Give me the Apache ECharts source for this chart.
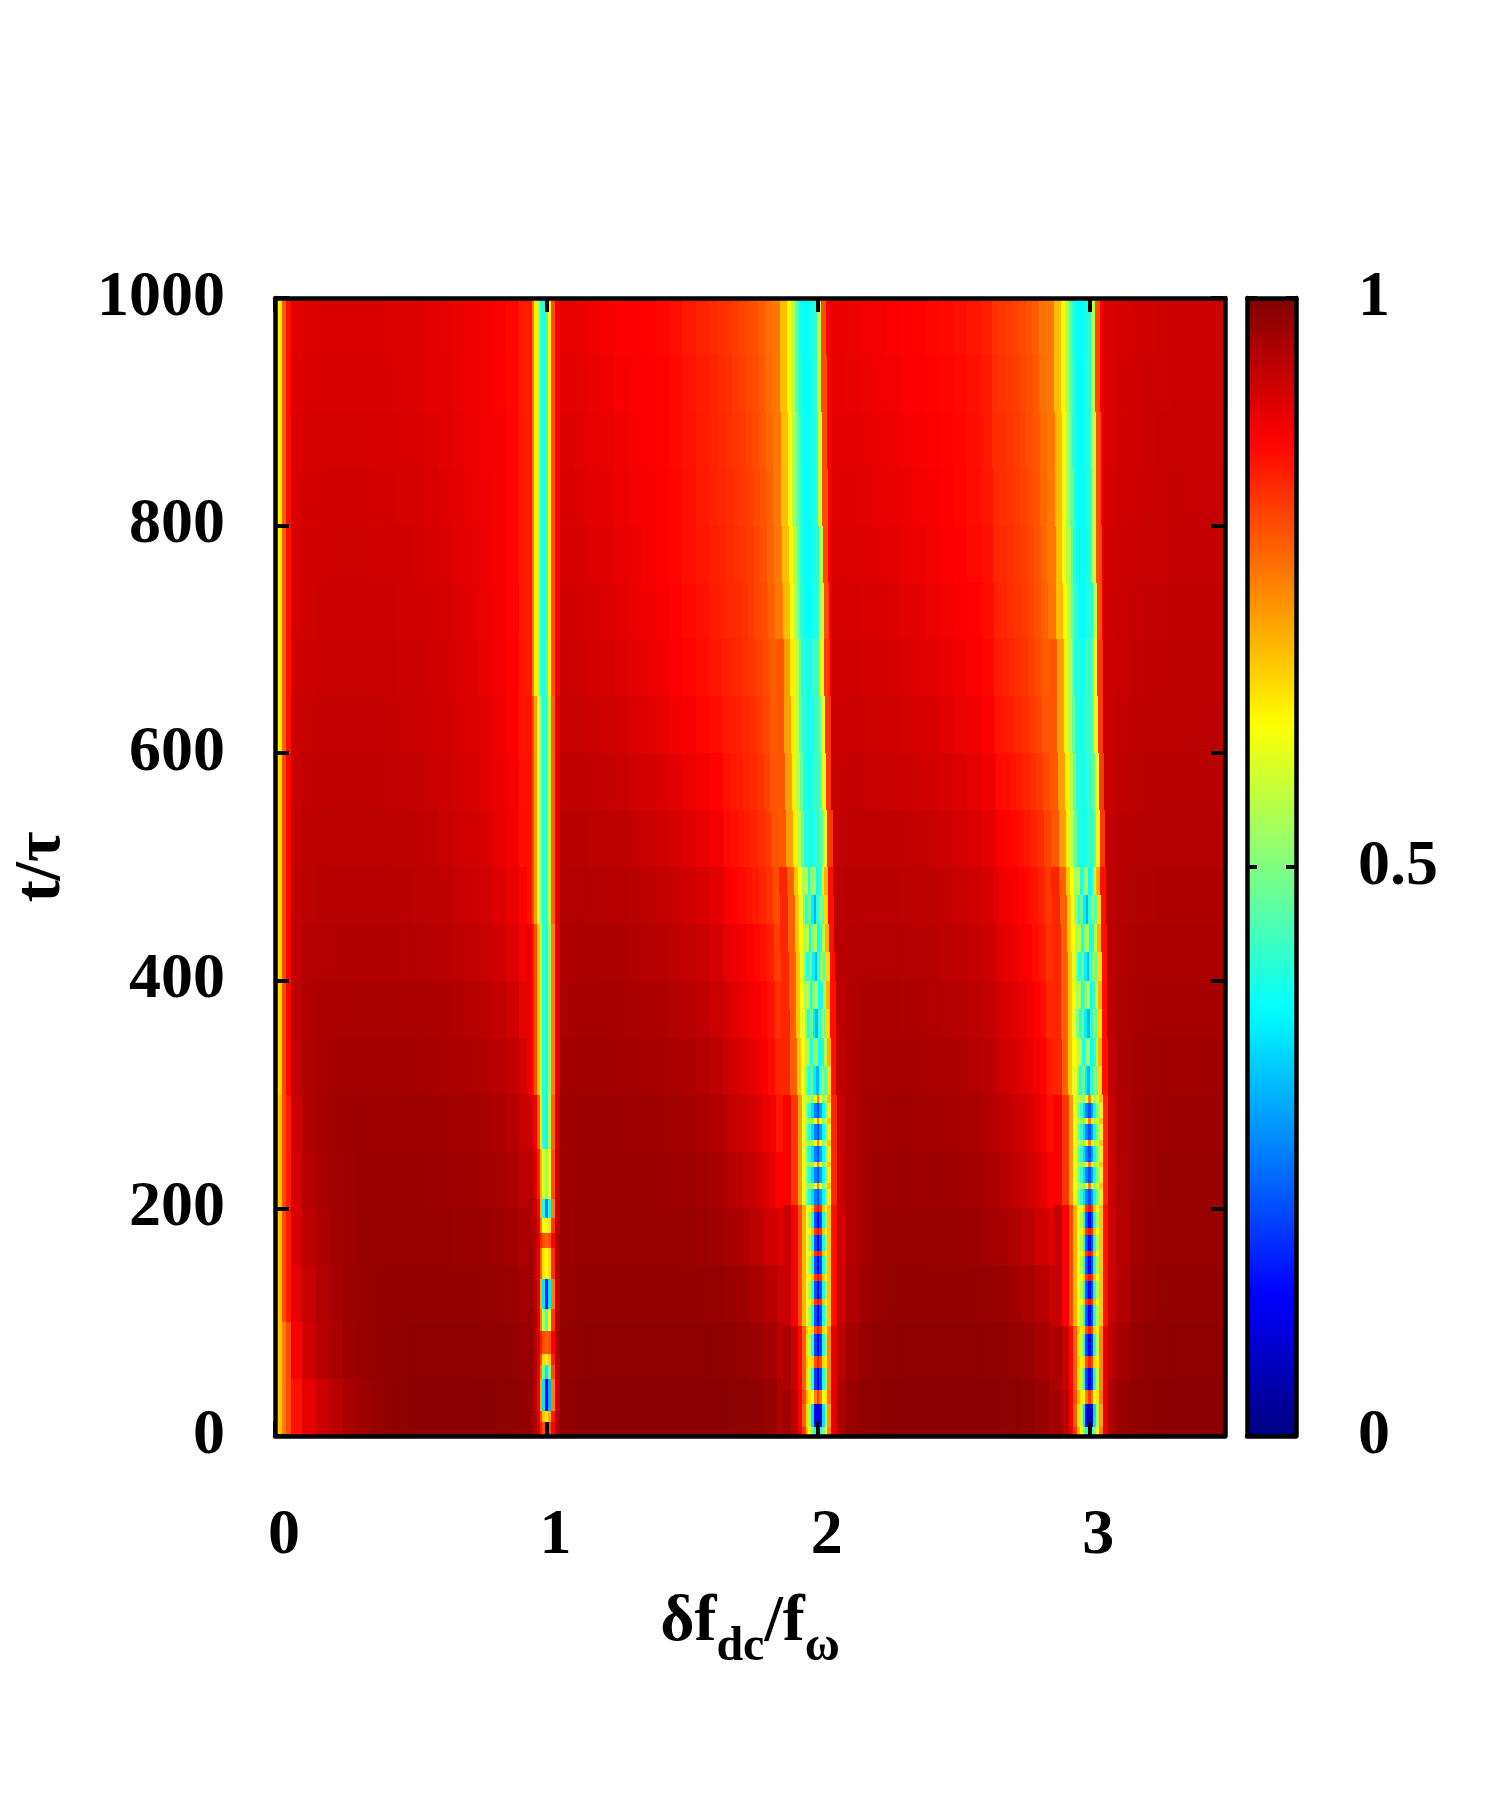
<!DOCTYPE html>
<html><head><meta charset="utf-8">
<script src="https://cdn.jsdelivr.net/npm/echarts@6/dist/echarts.min.js"></script>
<style>html,body{margin:0;padding:0;background:#fff}#c{width:1500px;height:1800px}</style>
</head><body><div id="c"></div>
<script>
// ---------- tick labels ----------
const xTickLabels = [0, 1, 2, 3];
const yTickLabels = [0, 200, 400, 600, 800, 1000];
const cbTickLabels = [0, 0.5, 1];

// ---------- background field, t bands of 50 ----------
const bgT = [0,50,100,150,200,250,300,350,400,450,500,550,600,650,700,750,800,850,900,950,1000];
const bgStep = 0.05;
// region A: x 0 .. 0.95
const bgA = [
  [0.78,0.86,0.9,0.925,0.945,0.96,0.97,0.978,0.984,0.988,0.99,0.99,0.99,0.99,0.99,0.99,0.989,0.987,0.98],
  [0.8,0.88,0.92,0.945,0.96,0.97,0.977,0.982,0.984,0.985,0.986,0.986,0.986,0.986,0.986,0.985,0.984,0.982,0.975],
  [0.82,0.9,0.93,0.95,0.963,0.972,0.977,0.98,0.981,0.981,0.981,0.981,0.981,0.981,0.98,0.979,0.977,0.974,0.965],
  [0.83,0.91,0.94,0.955,0.965,0.972,0.975,0.976,0.976,0.976,0.976,0.976,0.976,0.975,0.974,0.973,0.97,0.966,0.955],
  [0.84,0.915,0.945,0.96,0.967,0.971,0.973,0.973,0.973,0.973,0.973,0.972,0.971,0.97,0.968,0.966,0.962,0.955,0.94],
  [0.85,0.925,0.952,0.963,0.967,0.969,0.97,0.97,0.97,0.97,0.97,0.969,0.968,0.966,0.964,0.961,0.956,0.947,0.93],
  [0.86,0.935,0.955,0.961,0.964,0.965,0.965,0.965,0.965,0.964,0.963,0.962,0.96,0.958,0.955,0.951,0.945,0.935,0.915],
  [0.87,0.94,0.953,0.957,0.959,0.96,0.96,0.96,0.96,0.959,0.958,0.956,0.954,0.951,0.947,0.942,0.935,0.923,0.9],
  [0.87,0.938,0.948,0.951,0.953,0.953,0.953,0.953,0.953,0.952,0.95,0.948,0.945,0.941,0.936,0.93,0.921,0.908,0.885],
  [0.87,0.935,0.943,0.946,0.947,0.947,0.947,0.947,0.946,0.945,0.943,0.94,0.937,0.932,0.926,0.919,0.909,0.895,0.872],
  [0.87,0.932,0.938,0.941,0.942,0.942,0.942,0.942,0.941,0.94,0.937,0.934,0.93,0.925,0.918,0.91,0.9,0.886,0.862],
  [0.87,0.928,0.934,0.937,0.938,0.938,0.938,0.937,0.936,0.934,0.932,0.929,0.925,0.919,0.913,0.905,0.895,0.881,0.858],
  [0.87,0.924,0.93,0.933,0.934,0.934,0.934,0.933,0.932,0.93,0.928,0.925,0.921,0.915,0.909,0.901,0.891,0.877,0.855],
  [0.87,0.92,0.926,0.929,0.93,0.93,0.93,0.929,0.928,0.926,0.924,0.921,0.917,0.911,0.905,0.897,0.887,0.874,0.852],
  [0.87,0.917,0.923,0.926,0.927,0.927,0.927,0.926,0.925,0.923,0.921,0.918,0.914,0.908,0.902,0.894,0.885,0.872,0.85],
  [0.87,0.914,0.92,0.923,0.924,0.924,0.924,0.923,0.922,0.92,0.918,0.915,0.911,0.905,0.899,0.892,0.883,0.871,0.85],
  [0.87,0.911,0.917,0.919,0.92,0.92,0.92,0.919,0.918,0.916,0.914,0.911,0.907,0.902,0.896,0.89,0.882,0.871,0.85],
  [0.87,0.908,0.914,0.916,0.916,0.916,0.916,0.915,0.914,0.912,0.91,0.907,0.904,0.9,0.894,0.888,0.881,0.871,0.85],
  [0.88,0.906,0.911,0.913,0.913,0.913,0.913,0.912,0.911,0.909,0.907,0.904,0.901,0.897,0.892,0.887,0.88,0.87,0.85],
  [0.88,0.904,0.909,0.911,0.911,0.911,0.911,0.91,0.909,0.907,0.905,0.902,0.899,0.896,0.891,0.886,0.879,0.869,0.85]
];
// region B: x 1.05 .. 1.85
const bgB = [
  [0.985,0.99,0.99,0.99,0.99,0.99,0.99,0.99,0.99,0.99,0.99,0.99,0.989,0.987,0.984,0.975],
  [0.98,0.985,0.986,0.986,0.986,0.986,0.986,0.986,0.986,0.986,0.986,0.985,0.984,0.98,0.974,0.962],
  [0.976,0.98,0.982,0.982,0.982,0.982,0.982,0.982,0.982,0.981,0.98,0.978,0.974,0.968,0.958,0.945],
  [0.972,0.976,0.977,0.977,0.977,0.977,0.977,0.976,0.976,0.975,0.972,0.968,0.962,0.955,0.94,0.92],
  [0.97,0.974,0.974,0.974,0.974,0.974,0.973,0.972,0.971,0.969,0.966,0.962,0.956,0.948,0.938,0.922],
  [0.968,0.971,0.971,0.971,0.971,0.97,0.969,0.968,0.966,0.963,0.959,0.953,0.945,0.935,0.924,0.906],
  [0.964,0.967,0.967,0.967,0.966,0.965,0.963,0.961,0.958,0.954,0.948,0.94,0.93,0.918,0.904,0.885],
  [0.96,0.962,0.962,0.962,0.961,0.959,0.957,0.954,0.95,0.945,0.938,0.929,0.918,0.905,0.89,0.87],
  [0.955,0.957,0.957,0.956,0.954,0.952,0.949,0.945,0.94,0.934,0.926,0.916,0.904,0.891,0.876,0.855],
  [0.95,0.951,0.95,0.949,0.947,0.944,0.94,0.935,0.929,0.921,0.912,0.901,0.889,0.876,0.862,0.84],
  [0.944,0.944,0.943,0.941,0.938,0.934,0.929,0.923,0.916,0.907,0.897,0.886,0.874,0.862,0.848,0.825],
  [0.938,0.937,0.935,0.932,0.928,0.923,0.917,0.91,0.902,0.893,0.883,0.873,0.862,0.851,0.838,0.815],
  [0.932,0.93,0.927,0.923,0.918,0.912,0.905,0.898,0.89,0.881,0.872,0.862,0.852,0.842,0.83,0.808],
  [0.926,0.923,0.919,0.914,0.909,0.903,0.896,0.888,0.88,0.872,0.863,0.854,0.845,0.835,0.823,0.802],
  [0.92,0.917,0.913,0.908,0.902,0.896,0.889,0.881,0.874,0.866,0.858,0.849,0.84,0.83,0.818,0.797],
  [0.915,0.912,0.908,0.903,0.897,0.891,0.884,0.877,0.87,0.862,0.854,0.845,0.836,0.826,0.814,0.793],
  [0.911,0.908,0.904,0.899,0.893,0.887,0.881,0.875,0.868,0.86,0.851,0.842,0.833,0.823,0.811,0.79],
  [0.907,0.904,0.9,0.895,0.889,0.883,0.878,0.873,0.866,0.858,0.849,0.84,0.83,0.82,0.808,0.787],
  [0.903,0.899,0.895,0.889,0.883,0.879,0.876,0.873,0.866,0.857,0.848,0.84,0.831,0.82,0.8,0.775],
  [0.9,0.895,0.89,0.883,0.877,0.875,0.873,0.87,0.862,0.852,0.843,0.835,0.826,0.815,0.795,0.77]
];
// region C: x 2.05 .. 2.85
const bgC = [
  [0.955,0.975,0.984,0.988,0.99,0.99,0.99,0.99,0.99,0.99,0.99,0.99,0.989,0.987,0.984,0.975],
  [0.94,0.965,0.977,0.983,0.985,0.986,0.986,0.986,0.986,0.986,0.986,0.985,0.984,0.98,0.974,0.962],
  [0.925,0.952,0.97,0.978,0.981,0.982,0.982,0.982,0.982,0.981,0.98,0.977,0.973,0.967,0.958,0.945],
  [0.922,0.948,0.965,0.973,0.976,0.976,0.976,0.975,0.975,0.974,0.971,0.967,0.961,0.953,0.94,0.92],
  [0.925,0.948,0.963,0.97,0.972,0.972,0.971,0.97,0.969,0.967,0.964,0.96,0.954,0.946,0.936,0.92],
  [0.93,0.95,0.962,0.966,0.967,0.967,0.966,0.965,0.963,0.961,0.958,0.953,0.946,0.937,0.925,0.908],
  [0.938,0.952,0.959,0.961,0.962,0.961,0.96,0.959,0.957,0.954,0.95,0.944,0.936,0.926,0.913,0.895],
  [0.942,0.952,0.956,0.957,0.957,0.956,0.955,0.953,0.95,0.947,0.942,0.935,0.926,0.915,0.901,0.882],
  [0.942,0.948,0.951,0.951,0.951,0.95,0.948,0.946,0.943,0.939,0.933,0.925,0.915,0.903,0.889,0.87],
  [0.94,0.944,0.945,0.945,0.944,0.943,0.941,0.938,0.934,0.929,0.922,0.914,0.903,0.891,0.877,0.858],
  [0.935,0.938,0.938,0.938,0.937,0.935,0.932,0.929,0.924,0.918,0.911,0.902,0.891,0.879,0.865,0.846],
  [0.93,0.932,0.932,0.931,0.929,0.927,0.923,0.919,0.914,0.907,0.899,0.89,0.879,0.867,0.853,0.834],
  [0.925,0.926,0.925,0.924,0.922,0.919,0.915,0.91,0.904,0.897,0.889,0.879,0.868,0.856,0.843,0.823],
  [0.92,0.92,0.919,0.917,0.915,0.911,0.906,0.901,0.895,0.888,0.88,0.871,0.86,0.848,0.835,0.815],
  [0.915,0.914,0.913,0.911,0.908,0.904,0.899,0.893,0.887,0.88,0.873,0.864,0.854,0.842,0.829,0.808],
  [0.91,0.909,0.908,0.905,0.902,0.897,0.892,0.886,0.88,0.874,0.867,0.859,0.849,0.838,0.825,0.803],
  [0.906,0.905,0.903,0.9,0.896,0.891,0.886,0.881,0.876,0.87,0.863,0.855,0.845,0.834,0.821,0.799],
  [0.902,0.901,0.899,0.895,0.891,0.886,0.881,0.877,0.873,0.868,0.861,0.853,0.843,0.832,0.818,0.795],
  [0.898,0.897,0.894,0.89,0.885,0.88,0.876,0.874,0.871,0.866,0.86,0.852,0.842,0.831,0.816,0.79],
  [0.895,0.894,0.89,0.885,0.879,0.875,0.873,0.87,0.866,0.86,0.854,0.845,0.835,0.824,0.806,0.778]
];
// region D: x 3.05 .. 3.5
const bgD = [
  [0.955,0.975,0.984,0.988,0.99,0.99,0.99,0.99,0.99],
  [0.94,0.965,0.977,0.983,0.985,0.986,0.986,0.986,0.986],
  [0.925,0.952,0.97,0.978,0.981,0.982,0.982,0.982,0.982],
  [0.922,0.948,0.965,0.974,0.977,0.978,0.978,0.978,0.978],
  [0.925,0.95,0.965,0.972,0.975,0.975,0.975,0.975,0.975],
  [0.93,0.952,0.964,0.969,0.971,0.971,0.971,0.971,0.971],
  [0.938,0.955,0.963,0.966,0.967,0.967,0.967,0.967,0.967],
  [0.942,0.955,0.96,0.962,0.963,0.963,0.963,0.963,0.963],
  [0.942,0.952,0.956,0.958,0.958,0.958,0.958,0.958,0.958],
  [0.94,0.949,0.952,0.953,0.954,0.954,0.954,0.954,0.954],
  [0.935,0.944,0.947,0.949,0.95,0.95,0.95,0.95,0.95],
  [0.93,0.938,0.942,0.945,0.946,0.946,0.946,0.946,0.946],
  [0.927,0.934,0.938,0.941,0.942,0.943,0.943,0.943,0.943],
  [0.924,0.93,0.934,0.937,0.939,0.94,0.94,0.94,0.94],
  [0.921,0.927,0.931,0.934,0.936,0.937,0.937,0.937,0.937],
  [0.918,0.924,0.928,0.931,0.933,0.934,0.934,0.934,0.934],
  [0.915,0.921,0.925,0.928,0.93,0.931,0.931,0.931,0.931],
  [0.913,0.919,0.923,0.926,0.928,0.929,0.929,0.929,0.929],
  [0.912,0.917,0.921,0.924,0.926,0.927,0.927,0.927,0.927],
  [0.91,0.915,0.92,0.923,0.925,0.925,0.925,0.925,0.925]
];
// gaps under the lines (mostly hidden)
const bgGap1 = [0.9,0.9,0.9,0.9,0.9,0.9,0.9,0.9,0.9,0.9,0.9,0.9,0.9,0.9,0.9,0.9,0.9,0.9,0.9,0.9];
const bgGap2 = [0.96,0.945,0.93,0.905,0.9,0.9,0.9,0.9,0.9,0.9,0.88,0.88,0.88,0.88,0.88,0.88,0.88,0.88,0.88,0.88];
const bgGap3 = [0.96,0.945,0.93,0.905,0.9,0.9,0.9,0.9,0.9,0.9,0.88,0.88,0.88,0.88,0.88,0.88,0.88,0.88,0.88,0.88];

// ---------- orange halos left of the lines near x = 2 and x = 3 ----------
const haloOff = [-0.33,-0.305,-0.28,-0.255,-0.23,-0.205,-0.18,-0.155,-0.12];
const haloT = [200,250,300,350,400,450,500,550,600,650,700,750,800,850,900,950,1000];
const H2_c = [2,2,1.998,1.996,1.993,1.989,1.984,1.98,1.977,1.974,1.971,1.968,1.966,1.964,1.962,1.96];
const H3_c = [3,3,2.998,2.997,2.995,2.992,2.988,2.985,2.982,2.98,2.978,2.976,2.974,2.973,2.971,2.97];
const H2_v = [
  [0.948,0.944,0.938,0.931,0.923,0.913,0.9,0.877],
  [0.935,0.93,0.924,0.917,0.908,0.897,0.882,0.855],
  [0.922,0.916,0.909,0.901,0.892,0.881,0.866,0.84],
  [0.908,0.902,0.895,0.887,0.879,0.869,0.855,0.825],
  [0.898,0.892,0.885,0.877,0.869,0.859,0.845,0.815],
  [0.878,0.872,0.865,0.858,0.85,0.84,0.825,0.8],
  [0.866,0.86,0.854,0.847,0.84,0.831,0.818,0.795],
  [0.858,0.853,0.847,0.841,0.834,0.825,0.811,0.79],
  [0.852,0.847,0.842,0.836,0.829,0.819,0.806,0.786],
  [0.847,0.842,0.837,0.831,0.824,0.814,0.802,0.783],
  [0.843,0.838,0.833,0.827,0.819,0.81,0.799,0.78],
  [0.84,0.835,0.83,0.824,0.816,0.807,0.796,0.778],
  [0.838,0.833,0.827,0.821,0.814,0.805,0.793,0.776],
  [0.835,0.83,0.824,0.818,0.811,0.802,0.79,0.774],
  [0.833,0.828,0.821,0.815,0.808,0.799,0.788,0.772],
  [0.83,0.825,0.818,0.812,0.805,0.796,0.785,0.77]
];
const H3_v = [
  [0.946,0.942,0.937,0.93,0.922,0.912,0.899,0.876],
  [0.937,0.933,0.927,0.92,0.911,0.9,0.886,0.862],
  [0.926,0.921,0.915,0.907,0.898,0.887,0.872,0.848],
  [0.915,0.91,0.904,0.896,0.887,0.876,0.862,0.838],
  [0.903,0.898,0.891,0.884,0.875,0.865,0.851,0.828],
  [0.891,0.886,0.88,0.873,0.865,0.855,0.842,0.82],
  [0.879,0.874,0.868,0.861,0.853,0.844,0.832,0.81],
  [0.867,0.862,0.856,0.849,0.841,0.832,0.82,0.8],
  [0.856,0.851,0.845,0.838,0.83,0.821,0.809,0.79],
  [0.848,0.843,0.837,0.831,0.823,0.814,0.803,0.785],
  [0.842,0.837,0.832,0.826,0.819,0.81,0.799,0.78],
  [0.838,0.833,0.828,0.822,0.815,0.806,0.795,0.776],
  [0.834,0.83,0.825,0.819,0.812,0.803,0.792,0.773],
  [0.832,0.828,0.823,0.817,0.81,0.801,0.79,0.77],
  [0.83,0.826,0.821,0.815,0.808,0.799,0.788,0.768],
  [0.826,0.822,0.817,0.811,0.804,0.795,0.784,0.765]
];

// ---------- left edge stripe (x = 0) ----------
const L0_x = [0, 0.012, 0.025, 0.04, 0.06];
const L0_t = [0, 100, 300, 600, 1000];
const L0_v = [
  [0.6, 0.68, 0.75, 0.8],
  [0.6, 0.68, 0.8, 0.85],
  [0.58, 0.66, 0.8, 0.87],
  [0.56, 0.64, 0.78, 0.86]
];

// ---------- line near x = 1 ----------
const L1_x = [0.93, 0.945, 0.955, 0.965, 0.975, 0.985, 0.995, 1.005, 1.015, 1.03, 1.05];
const L1_t = [0, 12, 22, 50, 62, 72, 92, 112, 138, 165, 178, 192, 208, 252, 300, 450, 650, 1000];
const L1_v = [
  [0.98,0.97,0.95,0.92,0.85,0.8,0.78,0.8,0.88,0.96],
  [0.98,0.97,0.95,0.9,0.8,0.68,0.65,0.7,0.85,0.95],
  [0.98,0.97,0.94,0.88,0.7,0.35,0.12,0.3,0.75,0.92],
  [0.98,0.97,0.95,0.9,0.75,0.5,0.35,0.5,0.8,0.94],
  [0.98,0.97,0.95,0.9,0.8,0.66,0.64,0.68,0.85,0.95],
  [0.98,0.97,0.95,0.92,0.85,0.8,0.78,0.8,0.88,0.96],
  [0.98,0.97,0.95,0.9,0.75,0.55,0.45,0.6,0.82,0.95],
  [0.975,0.965,0.945,0.9,0.7,0.35,0.15,0.35,0.75,0.93],
  [0.97,0.96,0.94,0.9,0.78,0.65,0.62,0.66,0.83,0.95],
  [0.965,0.955,0.94,0.91,0.84,0.8,0.78,0.8,0.88,0.96],
  [0.96,0.95,0.935,0.9,0.75,0.62,0.6,0.65,0.82,0.94],
  [0.955,0.945,0.93,0.88,0.7,0.4,0.25,0.4,0.75,0.93],
  [0.945,0.935,0.91,0.85,0.7,0.58,0.52,0.6,0.8,0.93],
  [0.93,0.91,0.88,0.78,0.65,0.42,0.38,0.55,0.78,0.92],
  [0.9,0.86,0.8,0.68,0.56,0.42,0.4,0.52,0.75,0.9],
  [0.86,0.8,0.72,0.6,0.5,0.41,0.42,0.56,0.78,0.9],
  [0.85,0.76,0.64,0.55,0.43,0.4,0.45,0.63,0.8,0.89]
];

// ---------- lines near x = 2 and x = 3: profiles across the line ----------
const spotOff = [-0.13,-0.1,-0.075,-0.06,-0.045,-0.035,-0.025,-0.015,-0.005,0.005,0.015,0.025,0.035,0.05,0.07];
const RED0   = [0.97,0.95,0.9,0.82,0.7,0.62,0.5,0.4,0.35,0.4,0.5,0.62,0.75,0.9];
const SPOT_A = [0.97,0.94,0.88,0.78,0.66,0.55,0.35,0.12,0.06,0.12,0.35,0.55,0.72,0.9];
const GAP_A  = [0.97,0.94,0.88,0.8,0.7,0.65,0.62,0.75,0.82,0.75,0.62,0.65,0.76,0.9];
const SPOT_B = [0.96,0.93,0.87,0.78,0.66,0.56,0.4,0.18,0.1,0.18,0.4,0.56,0.74,0.9];
const GAP_B  = [0.96,0.93,0.87,0.78,0.68,0.64,0.66,0.8,0.85,0.8,0.66,0.64,0.74,0.9];
const SPOT_C = [0.93,0.88,0.8,0.7,0.62,0.55,0.4,0.2,0.12,0.2,0.4,0.55,0.68,0.86];
const GAP_C  = [0.93,0.88,0.8,0.7,0.62,0.62,0.68,0.82,0.86,0.82,0.68,0.62,0.68,0.86];
const SPOT_D = [0.88,0.82,0.72,0.6,0.5,0.42,0.34,0.25,0.2,0.28,0.38,0.5,0.64,0.84];
const GAP_D  = [0.88,0.82,0.72,0.6,0.55,0.55,0.5,0.62,0.75,0.62,0.52,0.58,0.68,0.84];
const CHK_A  = [0.84,0.78,0.68,0.6,0.5,0.42,0.48,0.36,0.3,0.42,0.52,0.46,0.66,0.86];
const CHK_B  = [0.84,0.78,0.68,0.62,0.54,0.56,0.4,0.5,0.55,0.38,0.42,0.56,0.7,0.86];
const MID    = [0.79,0.72,0.64,0.56,0.47,0.41,0.41,0.39,0.4,0.43,0.42,0.47,0.6,0.82];
const TOP    = [0.76,0.69,0.63,0.55,0.47,0.42,0.39,0.38,0.38,0.39,0.4,0.42,0.56,0.8];
const spotT = [0,8,28,40,60,70,90,97,115,120,136,142,158,163,177,183,197,203,217,222,236,241,255,260,274,279,293,300,
  325,350,375,400,425,450,475,500,550,600,650,700,750,800,850,900,950,1000];
const spotProf = [RED0,SPOT_A,GAP_A,SPOT_B,GAP_B,SPOT_B,GAP_B,
  SPOT_C,GAP_C,SPOT_C,GAP_C,SPOT_C,GAP_C,SPOT_C,GAP_C,SPOT_C,GAP_C,
  SPOT_D,GAP_D,SPOT_D,GAP_D,SPOT_D,GAP_D,SPOT_D,GAP_D,SPOT_D,GAP_D,
  CHK_A,CHK_B,CHK_A,CHK_B,CHK_A,CHK_B,CHK_A,CHK_B,
  MID,MID,MID,MID,TOP,TOP,TOP,TOP,TOP,TOP];
const L2_c = [2,2,2,2,2,2,2,2,2,2,2,2,2,2,2,2,2,2,2,2,2,2,2,2,2,2,2,
  1.998,1.997,1.996,1.995,1.993,1.991,1.989,1.987,
  1.984,1.98,1.977,1.974,1.971,1.968,1.966,1.964,1.962,1.96];
const L3_c = [3,3,3,3,3,3,3,3,3,3,3,3,3,3,3,3,3,3,3,3,3,3,3,3,3,3,3,
  2.998,2.998,2.997,2.996,2.995,2.994,2.992,2.99,
  2.988,2.985,2.982,2.98,2.978,2.976,2.974,2.973,2.971,2.97];

// ---------- jet palette ----------
const jet = ['#000080','#0000ff','#0080ff','#00ffff','#80ff80','#ffff00','#ff8000','#ff0000','#800000'];

// ---------- build cell tables [x0, x1, t0, t1, value] ----------
function addRegion(out, rows, x0, step) {
  rows.forEach((row, r) => row.forEach((v, i) => out.push([x0 + i * step, x0 + (i + 1) * step, bgT[r], bgT[r + 1], v])));
}
function addGap(out, col, xa, xb) { col.forEach((v, r) => out.push([xa, xb, bgT[r], bgT[r + 1], v])); }
const bgData = [];
addRegion(bgData, bgA, 0, bgStep);
addRegion(bgData, bgB, 1.05, bgStep);
addRegion(bgData, bgC, 2.05, bgStep);
addRegion(bgData, bgD, 3.05, bgStep);
addGap(bgData, bgGap1, 0.95, 1.05);
addGap(bgData, bgGap2, 1.85, 2.05);
addGap(bgData, bgGap3, 2.85, 3.05);

function offsetCells(rows, centers, offs, tEdges) {
  const out = [];
  rows.forEach((row, b) => row.forEach((v, i) =>
    out.push([centers[b] + offs[i], centers[b] + offs[i + 1], tEdges[b], tEdges[b + 1], v])));
  return out;
}
const halo2Data = offsetCells(H2_v, H2_c, haloOff, haloT);
const halo3Data = offsetCells(H3_v, H3_c, haloOff, haloT);
const l0Data = [];
L0_v.forEach((row, b) => row.forEach((v, i) => l0Data.push([L0_x[i], L0_x[i + 1], L0_t[b], L0_t[b + 1], v])));
const l1Data = [];
L1_v.forEach((row, b) => row.forEach((v, i) => l1Data.push([L1_x[i], L1_x[i + 1], L1_t[b], L1_t[b + 1], v])));
const l2Data = offsetCells(spotProf, L2_c, spotOff, spotT);
const l3Data = offsetCells(spotProf, L3_c, spotOff, spotT);

function renderCell(params, api) {
  const a = api.coord([api.value(0), api.value(3)]);
  const b = api.coord([api.value(1), api.value(2)]);
  const x0 = Math.round(a[0]), y0 = Math.round(a[1]), x1 = Math.round(b[0]), y1 = Math.round(b[1]);
  return { type: 'rect', shape: { x: x0, y: y0, width: x1 - x0, height: y1 - y0 }, style: { fill: api.visual('color') } };
}
function cellSeries(data) {
  return { type: 'custom', coordinateSystem: 'cartesian2d', xAxisIndex: 0, yAxisIndex: 0,
    renderItem: renderCell, data: data, dimensions: ['x0','x1','t0','t1','v'],
    encode: { x: [0, 1], y: [2, 3] }, clip: true, silent: true, animation: false, progressive: 0 };
}

const FF = "'Liberation Serif', 'DejaVu Serif', serif";
const lab = { fontFamily: FF, fontWeight: 'bold', fontSize: 64, color: '#000' };
const axLine = { show: true, onZero: false, lineStyle: { color: '#000', width: 4.5 } };
const tickIn = (len) => ({ show: true, inside: true, length: len, lineStyle: { color: '#000', width: 4 } });

const chart = echarts.init(document.getElementById('c'), null, { renderer: 'canvas' });
chart.setOption({
  backgroundColor: '#fff',
  animation: false,
  grid: [
    { left: 275, top: 298, width: 950, height: 1138 },
    { left: 1247, top: 298, width: 49, height: 1138 }
  ],
  xAxis: [
    { gridIndex: 0, type: 'value', min: 0, max: 3.5, interval: 1, position: 'bottom', z: 10,
      axisLine: axLine, axisTick: tickIn(14), splitLine: { show: false },
      axisLabel: Object.assign({ margin: 68, padding: [0, 0, 0, 18],
        formatter: v => xTickLabels.indexOf(v) >= 0 ? String(v) : '' }, lab),
      name: '{m|δf}{s|dc}{m|/f}{s|ω}', nameLocation: 'middle', nameGap: 138,
      nameTextStyle: { rich: {
        m: { fontFamily: FF, fontWeight: 'bold', fontSize: 66, color: '#000' },
        s: { fontFamily: FF, fontWeight: 'bold', fontSize: 48, color: '#000', padding: [50, 0, 0, 0] } } } },
    { gridIndex: 0, type: 'value', min: 0, max: 3.5, interval: 1, position: 'top', z: 10,
      axisLine: axLine, axisTick: tickIn(14), axisLabel: { show: false }, splitLine: { show: false } },
    { gridIndex: 1, type: 'value', min: 0, max: 1, position: 'bottom', z: 10,
      axisLine: axLine, axisTick: { show: false }, axisLabel: { show: false }, splitLine: { show: false } },
    { gridIndex: 1, type: 'value', min: 0, max: 1, position: 'top', z: 10,
      axisLine: axLine, axisTick: { show: false }, axisLabel: { show: false }, splitLine: { show: false } }
  ],
  yAxis: [
    { gridIndex: 0, type: 'value', min: 0, max: 1000, interval: 200, position: 'left', z: 10,
      axisLine: axLine, axisTick: tickIn(14), splitLine: { show: false },
      axisLabel: Object.assign({ margin: 50, formatter: v => yTickLabels.indexOf(v) >= 0 ? String(v) : '' }, lab),
      name: 't/τ', nameLocation: 'middle', nameGap: 200,
      nameTextStyle: { fontFamily: FF, fontWeight: 'bold', fontSize: 66, color: '#000' } },
    { gridIndex: 0, type: 'value', min: 0, max: 1000, interval: 200, position: 'right', z: 10,
      axisLine: axLine, axisTick: tickIn(14), axisLabel: { show: false }, splitLine: { show: false } },
    { gridIndex: 1, type: 'value', min: 0, max: 1, interval: 0.5, position: 'left', z: 10,
      axisLine: axLine, axisTick: tickIn(10), axisLabel: { show: false }, splitLine: { show: false } },
    { gridIndex: 1, type: 'value', min: 0, max: 1, interval: 0.5, position: 'right', z: 10,
      axisLine: axLine, axisTick: tickIn(10), splitLine: { show: false },
      axisLabel: Object.assign({ margin: 62, formatter: v => cbTickLabels.indexOf(v) >= 0 ? String(v) : '' }, lab) }
  ],
  visualMap: {
    type: 'continuous', min: 0, max: 1, dimension: 4, seriesIndex: [0, 1, 2, 3, 4, 5, 6],
    inRange: { color: jet }, calculable: false, hoverLink: false, orient: 'vertical',
    left: 1247, top: 298, itemWidth: 49, itemHeight: 1138, padding: 0, text: null, z: 4
  },
  series: [cellSeries(bgData), cellSeries(halo2Data), cellSeries(halo3Data),
    cellSeries(l0Data), cellSeries(l1Data), cellSeries(l2Data), cellSeries(l3Data)]
});
</script></body></html>
